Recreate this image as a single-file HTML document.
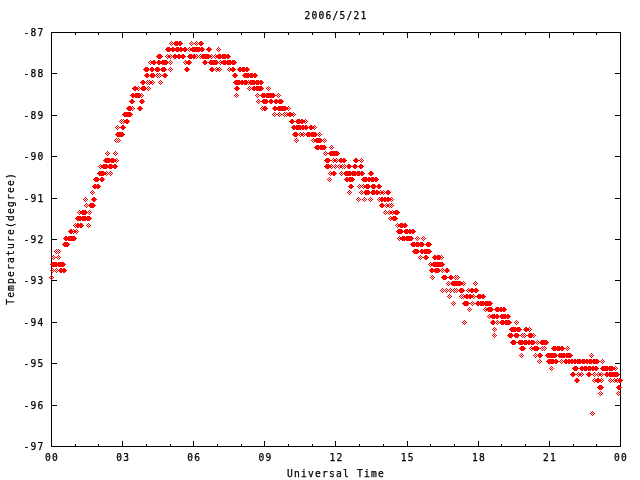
<!DOCTYPE html>
<html><head><meta charset="utf-8"><title>2006/5/21</title>
<style>
html,body{margin:0;padding:0;background:#fff;}
svg{display:block;}
text{font-family:'DejaVu Sans Mono','Liberation Mono',monospace;font-size:9.6px;letter-spacing:1.22px;fill:#000;stroke:#000;stroke-width:0.25px;}
</style></head><body>
<svg width="640" height="480" viewBox="0 0 640 480">
<rect width="640" height="480" fill="#fff"/>
<path d="M51 32h570v1h-570zM51 446h570v1h-570zM51 32h1v415h-1zM620 32h1v415h-1zM51 441h1v5h-1zM51 33h1v5h-1zM75 444h1v2h-1zM75 33h1v2h-1zM98 444h1v2h-1zM98 33h1v2h-1zM122 441h1v5h-1zM122 33h1v5h-1zM146 444h1v2h-1zM146 33h1v2h-1zM170 444h1v2h-1zM170 33h1v2h-1zM193 441h1v5h-1zM193 33h1v5h-1zM217 444h1v2h-1zM217 33h1v2h-1zM241 444h1v2h-1zM241 33h1v2h-1zM264 441h1v5h-1zM264 33h1v5h-1zM288 444h1v2h-1zM288 33h1v2h-1zM312 444h1v2h-1zM312 33h1v2h-1zM335 441h1v5h-1zM335 33h1v5h-1zM359 444h1v2h-1zM359 33h1v2h-1zM383 444h1v2h-1zM383 33h1v2h-1zM407 441h1v5h-1zM407 33h1v5h-1zM430 444h1v2h-1zM430 33h1v2h-1zM454 444h1v2h-1zM454 33h1v2h-1zM478 441h1v5h-1zM478 33h1v5h-1zM501 444h1v2h-1zM501 33h1v2h-1zM525 444h1v2h-1zM525 33h1v2h-1zM549 441h1v5h-1zM549 33h1v5h-1zM573 444h1v2h-1zM573 33h1v2h-1zM596 444h1v2h-1zM596 33h1v2h-1zM620 441h1v5h-1zM620 33h1v5h-1zM52 32h5v1h-5zM615 32h5v1h-5zM52 73h5v1h-5zM615 73h5v1h-5zM52 115h5v1h-5zM615 115h5v1h-5zM52 156h5v1h-5zM615 156h5v1h-5zM52 198h5v1h-5zM615 198h5v1h-5zM52 239h5v1h-5zM615 239h5v1h-5zM52 280h5v1h-5zM615 280h5v1h-5zM52 322h5v1h-5zM615 322h5v1h-5zM52 363h5v1h-5zM615 363h5v1h-5zM52 405h5v1h-5zM615 405h5v1h-5zM52 446h5v1h-5zM615 446h5v1h-5z" fill="#000" shape-rendering="crispEdges"/>
<path d="M171 41h1v1h-1zM175 41h3v1h-3zM179 41h2v1h-2zM191 41h1v1h-1zM196 41h1v1h-1zM200 41h2v1h-2zM170 42h1v1h-1zM172 42h1v1h-1zM174 42h8v1h-8zM190 42h1v1h-1zM192 42h1v1h-1zM195 42h1v1h-1zM197 42h1v1h-1zM199 42h4v1h-4zM169 43h1v1h-1zM171 43h1v1h-1zM173 43h10v1h-10zM189 43h1v1h-1zM191 43h1v1h-1zM193 43h2v1h-2zM196 43h1v1h-1zM198 43h6v1h-6zM170 44h1v1h-1zM172 44h1v1h-1zM174 44h8v1h-8zM190 44h1v1h-1zM192 44h1v1h-1zM195 44h1v1h-1zM197 44h1v1h-1zM199 44h4v1h-4zM171 45h1v1h-1zM175 45h3v1h-3zM179 45h2v1h-2zM191 45h1v1h-1zM196 45h1v1h-1zM200 45h2v1h-2zM167 47h3v1h-3zM172 47h2v1h-2zM176 47h3v1h-3zM180 47h2v1h-2zM184 47h2v1h-2zM189 47h1v1h-1zM192 47h8v1h-8zM201 47h2v1h-2zM208 47h2v1h-2zM218 47h1v1h-1zM166 48h21v1h-21zM188 48h1v1h-1zM190 48h14v1h-14zM207 48h4v1h-4zM217 48h1v1h-1zM219 48h1v1h-1zM165 49h23v1h-23zM189 49h16v1h-16zM206 49h6v1h-6zM216 49h1v1h-1zM218 49h1v1h-1zM220 49h1v1h-1zM166 50h21v1h-21zM188 50h1v1h-1zM190 50h14v1h-14zM207 50h4v1h-4zM217 50h1v1h-1zM219 50h1v1h-1zM167 51h3v1h-3zM172 51h2v1h-2zM176 51h3v1h-3zM180 51h2v1h-2zM184 51h2v1h-2zM189 51h1v1h-1zM192 51h8v1h-8zM201 51h2v1h-2zM208 51h2v1h-2zM218 51h1v1h-1zM158 54h3v1h-3zM167 54h1v1h-1zM170 54h1v1h-1zM174 54h2v1h-2zM178 54h2v1h-2zM182 54h2v1h-2zM189 54h3v1h-3zM193 54h2v1h-2zM196 54h1v1h-1zM200 54h1v1h-1zM202 54h7v1h-7zM211 54h1v1h-1zM215 54h1v1h-1zM218 54h3v1h-3zM222 54h4v1h-4zM227 54h2v1h-2zM157 55h5v1h-5zM166 55h1v1h-1zM168 55h2v1h-2zM171 55h1v1h-1zM173 55h12v1h-12zM188 55h8v1h-8zM197 55h1v1h-1zM199 55h1v1h-1zM201 55h10v1h-10zM212 55h1v1h-1zM214 55h1v1h-1zM216 55h14v1h-14zM156 56h7v1h-7zM165 56h1v1h-1zM167 56h4v1h-4zM172 56h14v1h-14zM187 56h10v1h-10zM198 56h1v1h-1zM200 56h12v1h-12zM213 56h1v1h-1zM215 56h16v1h-16zM157 57h5v1h-5zM166 57h1v1h-1zM168 57h2v1h-2zM171 57h1v1h-1zM173 57h12v1h-12zM188 57h8v1h-8zM197 57h1v1h-1zM199 57h1v1h-1zM201 57h10v1h-10zM212 57h1v1h-1zM214 57h1v1h-1zM216 57h14v1h-14zM158 58h3v1h-3zM167 58h1v1h-1zM170 58h1v1h-1zM174 58h2v1h-2zM178 58h2v1h-2zM182 58h2v1h-2zM189 58h3v1h-3zM193 58h2v1h-2zM196 58h1v1h-1zM200 58h1v1h-1zM202 58h7v1h-7zM211 58h1v1h-1zM215 58h1v1h-1zM218 58h3v1h-3zM222 58h4v1h-4zM227 58h2v1h-2zM150 60h1v1h-1zM153 60h2v1h-2zM158 60h2v1h-2zM162 60h5v1h-5zM170 60h1v1h-1zM185 60h1v1h-1zM188 60h2v1h-2zM204 60h2v1h-2zM210 60h7v1h-7zM220 60h1v1h-1zM223 60h3v1h-3zM227 60h4v1h-4zM232 60h3v1h-3zM149 61h1v1h-1zM151 61h5v1h-5zM157 61h11v1h-11zM169 61h1v1h-1zM171 61h1v1h-1zM184 61h1v1h-1zM186 61h5v1h-5zM203 61h4v1h-4zM209 61h9v1h-9zM219 61h1v1h-1zM221 61h15v1h-15zM148 62h1v1h-1zM150 62h19v1h-19zM170 62h1v1h-1zM172 62h1v1h-1zM183 62h1v1h-1zM185 62h7v1h-7zM202 62h17v1h-17zM220 62h17v1h-17zM149 63h1v1h-1zM151 63h5v1h-5zM157 63h11v1h-11zM169 63h1v1h-1zM171 63h1v1h-1zM184 63h1v1h-1zM186 63h5v1h-5zM203 63h4v1h-4zM209 63h9v1h-9zM219 63h1v1h-1zM221 63h15v1h-15zM150 64h1v1h-1zM153 64h2v1h-2zM158 64h2v1h-2zM162 64h5v1h-5zM170 64h1v1h-1zM185 64h1v1h-1zM188 64h2v1h-2zM204 64h2v1h-2zM210 64h7v1h-7zM220 64h1v1h-1zM223 64h3v1h-3zM227 64h4v1h-4zM232 64h3v1h-3zM145 67h3v1h-3zM151 67h2v1h-2zM156 67h3v1h-3zM162 67h3v1h-3zM170 67h1v1h-1zM186 67h2v1h-2zM211 67h2v1h-2zM216 67h1v1h-1zM219 67h1v1h-1zM229 67h1v1h-1zM232 67h2v1h-2zM239 67h2v1h-2zM242 67h3v1h-3zM246 67h2v1h-2zM144 68h5v1h-5zM150 68h4v1h-4zM155 68h5v1h-5zM161 68h5v1h-5zM169 68h1v1h-1zM171 68h1v1h-1zM185 68h4v1h-4zM210 68h4v1h-4zM215 68h1v1h-1zM217 68h2v1h-2zM220 68h1v1h-1zM228 68h1v1h-1zM230 68h5v1h-5zM238 68h11v1h-11zM143 69h24v1h-24zM168 69h1v1h-1zM170 69h1v1h-1zM172 69h1v1h-1zM184 69h6v1h-6zM209 69h6v1h-6zM216 69h4v1h-4zM221 69h1v1h-1zM227 69h1v1h-1zM229 69h7v1h-7zM237 69h13v1h-13zM144 70h5v1h-5zM150 70h4v1h-4zM155 70h5v1h-5zM161 70h5v1h-5zM169 70h1v1h-1zM171 70h1v1h-1zM185 70h4v1h-4zM210 70h4v1h-4zM215 70h1v1h-1zM217 70h2v1h-2zM220 70h1v1h-1zM228 70h1v1h-1zM230 70h5v1h-5zM238 70h11v1h-11zM145 71h3v1h-3zM151 71h2v1h-2zM156 71h3v1h-3zM162 71h3v1h-3zM170 71h1v1h-1zM186 71h2v1h-2zM211 71h2v1h-2zM216 71h1v1h-1zM219 71h1v1h-1zM229 71h1v1h-1zM232 71h2v1h-2zM239 71h2v1h-2zM242 71h3v1h-3zM246 71h2v1h-2zM146 73h2v1h-2zM151 73h3v1h-3zM157 73h1v1h-1zM159 73h1v1h-1zM164 73h2v1h-2zM234 73h2v1h-2zM244 73h5v1h-5zM250 73h3v1h-3zM254 73h2v1h-2zM145 74h4v1h-4zM150 74h5v1h-5zM156 74h1v1h-1zM158 74h1v1h-1zM160 74h1v1h-1zM163 74h4v1h-4zM233 74h4v1h-4zM243 74h14v1h-14zM144 75h12v1h-12zM157 75h1v1h-1zM159 75h1v1h-1zM161 75h7v1h-7zM232 75h6v1h-6zM242 75h16v1h-16zM145 76h4v1h-4zM150 76h5v1h-5zM156 76h1v1h-1zM158 76h1v1h-1zM160 76h1v1h-1zM163 76h4v1h-4zM233 76h4v1h-4zM243 76h14v1h-14zM146 77h2v1h-2zM151 77h3v1h-3zM157 77h1v1h-1zM159 77h1v1h-1zM164 77h2v1h-2zM234 77h2v1h-2zM244 77h5v1h-5zM250 77h3v1h-3zM254 77h2v1h-2zM142 80h2v1h-2zM147 80h1v1h-1zM149 80h1v1h-1zM152 80h1v1h-1zM160 80h1v1h-1zM235 80h5v1h-5zM241 80h2v1h-2zM244 80h3v1h-3zM248 80h1v1h-1zM250 80h5v1h-5zM256 80h3v1h-3zM260 80h2v1h-2zM141 81h4v1h-4zM146 81h1v1h-1zM148 81h1v1h-1zM150 81h2v1h-2zM153 81h1v1h-1zM159 81h1v1h-1zM161 81h1v1h-1zM234 81h14v1h-14zM249 81h14v1h-14zM140 82h6v1h-6zM147 82h1v1h-1zM149 82h4v1h-4zM154 82h1v1h-1zM158 82h1v1h-1zM160 82h1v1h-1zM162 82h1v1h-1zM233 82h31v1h-31zM141 83h4v1h-4zM146 83h1v1h-1zM148 83h1v1h-1zM150 83h2v1h-2zM153 83h1v1h-1zM159 83h1v1h-1zM161 83h1v1h-1zM234 83h14v1h-14zM249 83h14v1h-14zM142 84h2v1h-2zM147 84h1v1h-1zM149 84h1v1h-1zM152 84h1v1h-1zM160 84h1v1h-1zM235 84h5v1h-5zM241 84h2v1h-2zM244 84h3v1h-3zM248 84h1v1h-1zM250 84h5v1h-5zM256 84h3v1h-3zM260 84h2v1h-2zM134 86h2v1h-2zM138 86h1v1h-1zM142 86h3v1h-3zM148 86h1v1h-1zM236 86h2v1h-2zM249 86h1v1h-1zM253 86h2v1h-2zM256 86h6v1h-6zM268 86h1v1h-1zM133 87h5v1h-5zM139 87h1v1h-1zM141 87h5v1h-5zM147 87h1v1h-1zM149 87h1v1h-1zM235 87h4v1h-4zM248 87h1v1h-1zM250 87h1v1h-1zM252 87h11v1h-11zM267 87h1v1h-1zM269 87h1v1h-1zM132 88h7v1h-7zM140 88h7v1h-7zM148 88h1v1h-1zM150 88h1v1h-1zM234 88h6v1h-6zM247 88h1v1h-1zM249 88h1v1h-1zM251 88h13v1h-13zM266 88h1v1h-1zM268 88h1v1h-1zM270 88h1v1h-1zM133 89h5v1h-5zM139 89h1v1h-1zM141 89h5v1h-5zM147 89h1v1h-1zM149 89h1v1h-1zM235 89h4v1h-4zM248 89h1v1h-1zM250 89h1v1h-1zM252 89h11v1h-11zM267 89h1v1h-1zM269 89h1v1h-1zM134 90h2v1h-2zM138 90h1v1h-1zM142 90h3v1h-3zM148 90h1v1h-1zM236 90h2v1h-2zM249 90h1v1h-1zM253 90h2v1h-2zM256 90h6v1h-6zM268 90h1v1h-1zM132 93h2v1h-2zM135 93h5v1h-5zM141 93h1v1h-1zM236 93h1v1h-1zM257 93h1v1h-1zM262 93h3v1h-3zM266 93h8v1h-8zM278 93h1v1h-1zM131 94h10v1h-10zM142 94h1v1h-1zM235 94h1v1h-1zM237 94h1v1h-1zM256 94h1v1h-1zM258 94h1v1h-1zM261 94h14v1h-14zM277 94h1v1h-1zM279 94h1v1h-1zM130 95h12v1h-12zM143 95h1v1h-1zM234 95h1v1h-1zM236 95h1v1h-1zM238 95h1v1h-1zM255 95h1v1h-1zM257 95h1v1h-1zM259 95h18v1h-18zM278 95h1v1h-1zM280 95h1v1h-1zM131 96h10v1h-10zM142 96h1v1h-1zM235 96h1v1h-1zM237 96h1v1h-1zM256 96h1v1h-1zM258 96h1v1h-1zM261 96h14v1h-14zM277 96h1v1h-1zM279 96h1v1h-1zM132 97h2v1h-2zM135 97h5v1h-5zM141 97h1v1h-1zM236 97h1v1h-1zM257 97h1v1h-1zM262 97h3v1h-3zM266 97h8v1h-8zM278 97h1v1h-1zM131 99h2v1h-2zM141 99h2v1h-2zM258 99h1v1h-1zM263 99h4v1h-4zM270 99h2v1h-2zM275 99h2v1h-2zM279 99h3v1h-3zM130 100h4v1h-4zM140 100h4v1h-4zM257 100h1v1h-1zM259 100h1v1h-1zM262 100h6v1h-6zM269 100h4v1h-4zM274 100h9v1h-9zM129 101h6v1h-6zM139 101h6v1h-6zM256 101h1v1h-1zM258 101h1v1h-1zM260 101h24v1h-24zM130 102h4v1h-4zM140 102h4v1h-4zM257 102h1v1h-1zM259 102h1v1h-1zM262 102h6v1h-6zM269 102h4v1h-4zM274 102h9v1h-9zM131 103h2v1h-2zM141 103h2v1h-2zM258 103h1v1h-1zM263 103h4v1h-4zM270 103h2v1h-2zM275 103h2v1h-2zM279 103h3v1h-3zM128 106h3v1h-3zM132 106h1v1h-1zM139 106h2v1h-2zM262 106h1v1h-1zM264 106h2v1h-2zM274 106h2v1h-2zM278 106h8v1h-8zM288 106h1v1h-1zM127 107h5v1h-5zM133 107h1v1h-1zM138 107h4v1h-4zM261 107h1v1h-1zM263 107h4v1h-4zM273 107h15v1h-15zM289 107h1v1h-1zM126 108h7v1h-7zM134 108h1v1h-1zM137 108h6v1h-6zM260 108h1v1h-1zM262 108h6v1h-6zM272 108h17v1h-17zM290 108h1v1h-1zM127 109h5v1h-5zM133 109h1v1h-1zM138 109h4v1h-4zM261 109h1v1h-1zM263 109h4v1h-4zM273 109h15v1h-15zM289 109h1v1h-1zM128 110h3v1h-3zM132 110h1v1h-1zM139 110h2v1h-2zM262 110h1v1h-1zM264 110h2v1h-2zM274 110h2v1h-2zM278 110h8v1h-8zM288 110h1v1h-1zM124 112h7v1h-7zM274 112h1v1h-1zM279 112h1v1h-1zM284 112h1v1h-1zM286 112h1v1h-1zM289 112h2v1h-2zM293 112h1v1h-1zM123 113h9v1h-9zM273 113h1v1h-1zM275 113h1v1h-1zM278 113h1v1h-1zM280 113h1v1h-1zM283 113h1v1h-1zM285 113h1v1h-1zM287 113h6v1h-6zM294 113h1v1h-1zM122 114h11v1h-11zM272 114h1v1h-1zM274 114h1v1h-1zM276 114h2v1h-2zM279 114h1v1h-1zM281 114h2v1h-2zM284 114h1v1h-1zM286 114h8v1h-8zM295 114h1v1h-1zM123 115h9v1h-9zM273 115h1v1h-1zM275 115h1v1h-1zM278 115h1v1h-1zM280 115h1v1h-1zM283 115h1v1h-1zM285 115h1v1h-1zM287 115h6v1h-6zM294 115h1v1h-1zM124 116h7v1h-7zM274 116h1v1h-1zM279 116h1v1h-1zM284 116h1v1h-1zM286 116h1v1h-1zM289 116h2v1h-2zM293 116h1v1h-1zM121 119h1v1h-1zM123 119h1v1h-1zM126 119h2v1h-2zM291 119h2v1h-2zM297 119h3v1h-3zM301 119h2v1h-2zM305 119h1v1h-1zM120 120h1v1h-1zM122 120h1v1h-1zM124 120h5v1h-5zM290 120h4v1h-4zM296 120h9v1h-9zM306 120h1v1h-1zM119 121h1v1h-1zM121 121h1v1h-1zM123 121h7v1h-7zM289 121h17v1h-17zM307 121h1v1h-1zM120 122h1v1h-1zM122 122h1v1h-1zM124 122h5v1h-5zM290 122h4v1h-4zM296 122h9v1h-9zM306 122h1v1h-1zM121 123h1v1h-1zM123 123h1v1h-1zM126 123h2v1h-2zM291 123h2v1h-2zM297 123h3v1h-3zM301 123h2v1h-2zM305 123h1v1h-1zM117 125h1v1h-1zM122 125h2v1h-2zM293 125h2v1h-2zM296 125h5v1h-5zM302 125h2v1h-2zM305 125h2v1h-2zM310 125h2v1h-2zM314 125h1v1h-1zM116 126h1v1h-1zM118 126h1v1h-1zM121 126h4v1h-4zM292 126h16v1h-16zM309 126h5v1h-5zM315 126h1v1h-1zM115 127h1v1h-1zM117 127h1v1h-1zM119 127h7v1h-7zM291 127h24v1h-24zM316 127h1v1h-1zM116 128h1v1h-1zM118 128h1v1h-1zM121 128h4v1h-4zM292 128h16v1h-16zM309 128h5v1h-5zM315 128h1v1h-1zM117 129h1v1h-1zM122 129h2v1h-2zM293 129h2v1h-2zM296 129h5v1h-5zM302 129h2v1h-2zM305 129h2v1h-2zM310 129h2v1h-2zM314 129h1v1h-1zM117 132h6v1h-6zM294 132h3v1h-3zM300 132h1v1h-1zM303 132h1v1h-1zM307 132h3v1h-3zM311 132h5v1h-5zM319 132h1v1h-1zM116 133h8v1h-8zM293 133h5v1h-5zM299 133h1v1h-1zM301 133h2v1h-2zM304 133h1v1h-1zM306 133h11v1h-11zM318 133h1v1h-1zM320 133h1v1h-1zM115 134h10v1h-10zM292 134h7v1h-7zM300 134h4v1h-4zM305 134h13v1h-13zM319 134h1v1h-1zM321 134h1v1h-1zM116 135h8v1h-8zM293 135h5v1h-5zM299 135h1v1h-1zM301 135h2v1h-2zM304 135h1v1h-1zM306 135h11v1h-11zM318 135h1v1h-1zM320 135h1v1h-1zM117 136h6v1h-6zM294 136h3v1h-3zM300 136h1v1h-1zM303 136h1v1h-1zM307 136h3v1h-3zM311 136h5v1h-5zM319 136h1v1h-1zM116 138h1v1h-1zM118 138h1v1h-1zM296 138h1v1h-1zM313 138h1v1h-1zM316 138h5v1h-5zM324 138h1v1h-1zM115 139h1v1h-1zM117 139h1v1h-1zM119 139h1v1h-1zM295 139h1v1h-1zM297 139h1v1h-1zM312 139h1v1h-1zM314 139h8v1h-8zM323 139h1v1h-1zM325 139h1v1h-1zM114 140h1v1h-1zM116 140h1v1h-1zM118 140h1v1h-1zM120 140h1v1h-1zM294 140h1v1h-1zM296 140h1v1h-1zM298 140h1v1h-1zM311 140h1v1h-1zM313 140h10v1h-10zM324 140h1v1h-1zM326 140h1v1h-1zM115 141h1v1h-1zM117 141h1v1h-1zM119 141h1v1h-1zM295 141h1v1h-1zM297 141h1v1h-1zM312 141h1v1h-1zM314 141h8v1h-8zM323 141h1v1h-1zM325 141h1v1h-1zM116 142h1v1h-1zM118 142h1v1h-1zM296 142h1v1h-1zM313 142h1v1h-1zM316 142h5v1h-5zM324 142h1v1h-1zM316 145h3v1h-3zM320 145h5v1h-5zM331 145h1v1h-1zM315 146h11v1h-11zM330 146h1v1h-1zM332 146h1v1h-1zM314 147h13v1h-13zM329 147h1v1h-1zM331 147h1v1h-1zM333 147h1v1h-1zM315 148h11v1h-11zM330 148h1v1h-1zM332 148h1v1h-1zM316 149h3v1h-3zM320 149h5v1h-5zM331 149h1v1h-1zM107 151h1v1h-1zM115 151h1v1h-1zM325 151h1v1h-1zM330 151h8v1h-8zM106 152h1v1h-1zM108 152h1v1h-1zM114 152h1v1h-1zM116 152h1v1h-1zM324 152h1v1h-1zM326 152h1v1h-1zM329 152h10v1h-10zM105 153h1v1h-1zM107 153h1v1h-1zM109 153h1v1h-1zM113 153h1v1h-1zM115 153h1v1h-1zM117 153h1v1h-1zM323 153h1v1h-1zM325 153h1v1h-1zM327 153h13v1h-13zM106 154h1v1h-1zM108 154h1v1h-1zM114 154h1v1h-1zM116 154h1v1h-1zM324 154h1v1h-1zM326 154h1v1h-1zM329 154h10v1h-10zM107 155h1v1h-1zM115 155h1v1h-1zM325 155h1v1h-1zM330 155h8v1h-8zM105 158h5v1h-5zM111 158h3v1h-3zM116 158h1v1h-1zM326 158h3v1h-3zM333 158h1v1h-1zM336 158h1v1h-1zM340 158h2v1h-2zM343 158h2v1h-2zM355 158h2v1h-2zM361 158h1v1h-1zM104 159h12v1h-12zM117 159h1v1h-1zM325 159h5v1h-5zM332 159h1v1h-1zM334 159h2v1h-2zM337 159h1v1h-1zM339 159h7v1h-7zM354 159h4v1h-4zM360 159h1v1h-1zM362 159h1v1h-1zM103 160h14v1h-14zM118 160h1v1h-1zM324 160h8v1h-8zM333 160h4v1h-4zM338 160h9v1h-9zM353 160h7v1h-7zM361 160h1v1h-1zM363 160h1v1h-1zM104 161h12v1h-12zM117 161h1v1h-1zM325 161h5v1h-5zM332 161h1v1h-1zM334 161h2v1h-2zM337 161h1v1h-1zM339 161h7v1h-7zM354 161h4v1h-4zM360 161h1v1h-1zM362 161h1v1h-1zM105 162h5v1h-5zM111 162h3v1h-3zM116 162h1v1h-1zM326 162h3v1h-3zM333 162h1v1h-1zM336 162h1v1h-1zM340 162h2v1h-2zM343 162h2v1h-2zM355 162h2v1h-2zM361 162h1v1h-1zM100 164h1v1h-1zM103 164h4v1h-4zM109 164h3v1h-3zM114 164h2v1h-2zM326 164h3v1h-3zM331 164h1v1h-1zM335 164h1v1h-1zM339 164h1v1h-1zM342 164h1v1h-1zM344 164h1v1h-1zM348 164h2v1h-2zM354 164h2v1h-2zM360 164h2v1h-2zM99 165h1v1h-1zM101 165h16v1h-16zM325 165h6v1h-6zM332 165h1v1h-1zM334 165h1v1h-1zM336 165h1v1h-1zM338 165h1v1h-1zM340 165h2v1h-2zM343 165h1v1h-1zM345 165h1v1h-1zM347 165h4v1h-4zM353 165h4v1h-4zM359 165h4v1h-4zM98 166h1v1h-1zM100 166h18v1h-18zM324 166h8v1h-8zM333 166h1v1h-1zM335 166h1v1h-1zM337 166h1v1h-1zM339 166h4v1h-4zM344 166h1v1h-1zM346 166h18v1h-18zM99 167h1v1h-1zM101 167h16v1h-16zM325 167h6v1h-6zM332 167h1v1h-1zM334 167h1v1h-1zM336 167h1v1h-1zM338 167h1v1h-1zM340 167h2v1h-2zM343 167h1v1h-1zM345 167h1v1h-1zM347 167h4v1h-4zM353 167h4v1h-4zM359 167h4v1h-4zM100 168h1v1h-1zM103 168h4v1h-4zM109 168h3v1h-3zM114 168h2v1h-2zM326 168h3v1h-3zM331 168h1v1h-1zM335 168h1v1h-1zM339 168h1v1h-1zM342 168h1v1h-1zM344 168h1v1h-1zM348 168h2v1h-2zM354 168h2v1h-2zM360 168h2v1h-2zM99 171h5v1h-5zM106 171h1v1h-1zM110 171h1v1h-1zM330 171h1v1h-1zM333 171h2v1h-2zM341 171h1v1h-1zM345 171h6v1h-6zM352 171h4v1h-4zM357 171h3v1h-3zM361 171h2v1h-2zM370 171h2v1h-2zM98 172h8v1h-8zM107 172h1v1h-1zM109 172h1v1h-1zM111 172h1v1h-1zM329 172h1v1h-1zM331 172h5v1h-5zM340 172h1v1h-1zM342 172h1v1h-1zM344 172h20v1h-20zM369 172h4v1h-4zM97 173h10v1h-10zM108 173h1v1h-1zM110 173h1v1h-1zM112 173h1v1h-1zM328 173h1v1h-1zM330 173h7v1h-7zM339 173h1v1h-1zM341 173h1v1h-1zM343 173h22v1h-22zM368 173h6v1h-6zM98 174h8v1h-8zM107 174h1v1h-1zM109 174h1v1h-1zM111 174h1v1h-1zM329 174h1v1h-1zM331 174h5v1h-5zM340 174h1v1h-1zM342 174h1v1h-1zM344 174h20v1h-20zM369 174h4v1h-4zM99 175h5v1h-5zM106 175h1v1h-1zM110 175h1v1h-1zM330 175h1v1h-1zM333 175h2v1h-2zM341 175h1v1h-1zM345 175h6v1h-6zM352 175h4v1h-4zM357 175h3v1h-3zM361 175h2v1h-2zM370 175h2v1h-2zM95 177h3v1h-3zM101 177h2v1h-2zM329 177h1v1h-1zM346 177h2v1h-2zM349 177h4v1h-4zM363 177h4v1h-4zM368 177h2v1h-2zM371 177h3v1h-3zM375 177h2v1h-2zM94 178h5v1h-5zM100 178h4v1h-4zM328 178h1v1h-1zM330 178h1v1h-1zM345 178h9v1h-9zM362 178h16v1h-16zM93 179h12v1h-12zM327 179h1v1h-1zM329 179h1v1h-1zM331 179h1v1h-1zM344 179h11v1h-11zM361 179h18v1h-18zM94 180h5v1h-5zM100 180h4v1h-4zM328 180h1v1h-1zM330 180h1v1h-1zM345 180h9v1h-9zM362 180h16v1h-16zM95 181h3v1h-3zM101 181h2v1h-2zM329 181h1v1h-1zM346 181h2v1h-2zM349 181h4v1h-4zM363 181h4v1h-4zM368 181h2v1h-2zM371 181h3v1h-3zM375 181h2v1h-2zM94 184h2v1h-2zM97 184h2v1h-2zM350 184h2v1h-2zM359 184h1v1h-1zM363 184h1v1h-1zM366 184h3v1h-3zM372 184h3v1h-3zM378 184h2v1h-2zM93 185h7v1h-7zM349 185h4v1h-4zM358 185h1v1h-1zM360 185h1v1h-1zM362 185h1v1h-1zM364 185h6v1h-6zM371 185h5v1h-5zM377 185h4v1h-4zM92 186h9v1h-9zM348 186h6v1h-6zM357 186h1v1h-1zM359 186h1v1h-1zM361 186h1v1h-1zM363 186h19v1h-19zM93 187h7v1h-7zM349 187h4v1h-4zM358 187h1v1h-1zM360 187h1v1h-1zM362 187h1v1h-1zM364 187h6v1h-6zM371 187h5v1h-5zM377 187h4v1h-4zM94 188h2v1h-2zM97 188h2v1h-2zM350 188h2v1h-2zM359 188h1v1h-1zM363 188h1v1h-1zM366 188h3v1h-3zM372 188h3v1h-3zM378 188h2v1h-2zM92 190h1v1h-1zM349 190h1v1h-1zM361 190h1v1h-1zM365 190h4v1h-4zM372 190h3v1h-3zM376 190h2v1h-2zM380 190h1v1h-1zM383 190h1v1h-1zM387 190h2v1h-2zM91 191h1v1h-1zM93 191h1v1h-1zM348 191h1v1h-1zM350 191h1v1h-1zM360 191h1v1h-1zM362 191h1v1h-1zM364 191h6v1h-6zM371 191h9v1h-9zM381 191h2v1h-2zM384 191h1v1h-1zM386 191h4v1h-4zM90 192h1v1h-1zM92 192h1v1h-1zM94 192h1v1h-1zM347 192h1v1h-1zM349 192h1v1h-1zM351 192h1v1h-1zM359 192h1v1h-1zM361 192h1v1h-1zM363 192h21v1h-21zM385 192h6v1h-6zM91 193h1v1h-1zM93 193h1v1h-1zM348 193h1v1h-1zM350 193h1v1h-1zM360 193h1v1h-1zM362 193h1v1h-1zM364 193h6v1h-6zM371 193h9v1h-9zM381 193h2v1h-2zM384 193h1v1h-1zM386 193h4v1h-4zM92 194h1v1h-1zM349 194h1v1h-1zM361 194h1v1h-1zM365 194h4v1h-4zM372 194h3v1h-3zM376 194h2v1h-2zM380 194h1v1h-1zM383 194h1v1h-1zM387 194h2v1h-2zM85 197h1v1h-1zM93 197h2v1h-2zM358 197h1v1h-1zM364 197h1v1h-1zM370 197h1v1h-1zM379 197h1v1h-1zM381 197h2v1h-2zM384 197h2v1h-2zM387 197h2v1h-2zM391 197h1v1h-1zM84 198h1v1h-1zM86 198h1v1h-1zM92 198h4v1h-4zM357 198h1v1h-1zM359 198h1v1h-1zM363 198h1v1h-1zM365 198h1v1h-1zM369 198h1v1h-1zM371 198h1v1h-1zM378 198h1v1h-1zM380 198h11v1h-11zM392 198h1v1h-1zM83 199h1v1h-1zM85 199h1v1h-1zM87 199h1v1h-1zM91 199h6v1h-6zM356 199h1v1h-1zM358 199h1v1h-1zM360 199h1v1h-1zM362 199h1v1h-1zM364 199h1v1h-1zM366 199h1v1h-1zM368 199h1v1h-1zM370 199h1v1h-1zM372 199h1v1h-1zM377 199h1v1h-1zM379 199h13v1h-13zM393 199h1v1h-1zM84 200h1v1h-1zM86 200h1v1h-1zM92 200h4v1h-4zM357 200h1v1h-1zM359 200h1v1h-1zM363 200h1v1h-1zM365 200h1v1h-1zM369 200h1v1h-1zM371 200h1v1h-1zM378 200h1v1h-1zM380 200h11v1h-11zM392 200h1v1h-1zM85 201h1v1h-1zM93 201h2v1h-2zM358 201h1v1h-1zM364 201h1v1h-1zM370 201h1v1h-1zM379 201h1v1h-1zM381 201h2v1h-2zM384 201h2v1h-2zM387 201h2v1h-2zM391 201h1v1h-1zM86 203h1v1h-1zM90 203h4v1h-4zM381 203h2v1h-2zM386 203h1v1h-1zM389 203h1v1h-1zM391 203h1v1h-1zM85 204h1v1h-1zM87 204h1v1h-1zM89 204h6v1h-6zM380 204h4v1h-4zM385 204h1v1h-1zM387 204h2v1h-2zM390 204h1v1h-1zM392 204h1v1h-1zM84 205h1v1h-1zM86 205h1v1h-1zM88 205h8v1h-8zM379 205h6v1h-6zM386 205h4v1h-4zM391 205h1v1h-1zM393 205h1v1h-1zM85 206h1v1h-1zM87 206h1v1h-1zM89 206h6v1h-6zM380 206h4v1h-4zM385 206h1v1h-1zM387 206h2v1h-2zM390 206h1v1h-1zM392 206h1v1h-1zM86 207h1v1h-1zM90 207h4v1h-4zM381 207h2v1h-2zM386 207h1v1h-1zM389 207h1v1h-1zM391 207h1v1h-1zM79 210h1v1h-1zM82 210h4v1h-4zM89 210h1v1h-1zM385 210h1v1h-1zM389 210h1v1h-1zM392 210h1v1h-1zM395 210h3v1h-3zM78 211h1v1h-1zM80 211h7v1h-7zM88 211h1v1h-1zM90 211h1v1h-1zM384 211h1v1h-1zM386 211h1v1h-1zM388 211h1v1h-1zM390 211h2v1h-2zM393 211h6v1h-6zM77 212h1v1h-1zM79 212h9v1h-9zM89 212h1v1h-1zM91 212h1v1h-1zM383 212h1v1h-1zM385 212h1v1h-1zM387 212h1v1h-1zM389 212h11v1h-11zM78 213h1v1h-1zM80 213h7v1h-7zM88 213h1v1h-1zM90 213h1v1h-1zM384 213h1v1h-1zM386 213h1v1h-1zM388 213h1v1h-1zM390 213h2v1h-2zM393 213h6v1h-6zM79 214h1v1h-1zM82 214h4v1h-4zM89 214h1v1h-1zM385 214h1v1h-1zM389 214h1v1h-1zM392 214h1v1h-1zM395 214h3v1h-3zM77 216h4v1h-4zM82 216h4v1h-4zM87 216h3v1h-3zM390 216h1v1h-1zM393 216h3v1h-3zM76 217h15v1h-15zM389 217h1v1h-1zM391 217h6v1h-6zM75 218h17v1h-17zM388 218h1v1h-1zM390 218h8v1h-8zM76 219h15v1h-15zM389 219h1v1h-1zM391 219h6v1h-6zM77 220h4v1h-4zM82 220h4v1h-4zM87 220h3v1h-3zM390 220h1v1h-1zM393 220h3v1h-3zM75 223h1v1h-1zM77 223h2v1h-2zM80 223h2v1h-2zM88 223h1v1h-1zM397 223h1v1h-1zM400 223h3v1h-3zM404 223h2v1h-2zM74 224h1v1h-1zM76 224h7v1h-7zM87 224h1v1h-1zM89 224h1v1h-1zM396 224h1v1h-1zM398 224h9v1h-9zM73 225h1v1h-1zM75 225h9v1h-9zM86 225h1v1h-1zM88 225h1v1h-1zM90 225h1v1h-1zM395 225h1v1h-1zM397 225h11v1h-11zM74 226h1v1h-1zM76 226h7v1h-7zM87 226h1v1h-1zM89 226h1v1h-1zM396 226h1v1h-1zM398 226h9v1h-9zM75 227h1v1h-1zM77 227h2v1h-2zM80 227h2v1h-2zM88 227h1v1h-1zM397 227h1v1h-1zM400 227h3v1h-3zM404 227h2v1h-2zM70 229h2v1h-2zM73 229h1v1h-1zM76 229h1v1h-1zM398 229h4v1h-4zM405 229h3v1h-3zM409 229h2v1h-2zM412 229h2v1h-2zM69 230h4v1h-4zM74 230h2v1h-2zM77 230h1v1h-1zM397 230h6v1h-6zM404 230h11v1h-11zM68 231h9v1h-9zM78 231h1v1h-1zM396 231h20v1h-20zM69 232h4v1h-4zM74 232h2v1h-2zM77 232h1v1h-1zM397 232h6v1h-6zM404 232h11v1h-11zM70 233h2v1h-2zM73 233h1v1h-1zM76 233h1v1h-1zM398 233h4v1h-4zM405 233h3v1h-3zM409 233h2v1h-2zM412 233h2v1h-2zM65 236h2v1h-2zM68 236h7v1h-7zM399 236h1v1h-1zM402 236h3v1h-3zM406 236h6v1h-6zM417 236h1v1h-1zM423 236h1v1h-1zM64 237h12v1h-12zM398 237h1v1h-1zM400 237h13v1h-13zM416 237h1v1h-1zM418 237h1v1h-1zM422 237h1v1h-1zM424 237h1v1h-1zM63 238h14v1h-14zM397 238h1v1h-1zM399 238h15v1h-15zM415 238h1v1h-1zM417 238h1v1h-1zM419 238h1v1h-1zM421 238h1v1h-1zM423 238h1v1h-1zM425 238h1v1h-1zM64 239h12v1h-12zM398 239h1v1h-1zM400 239h13v1h-13zM416 239h1v1h-1zM418 239h1v1h-1zM422 239h1v1h-1zM424 239h1v1h-1zM65 240h2v1h-2zM68 240h7v1h-7zM399 240h1v1h-1zM402 240h3v1h-3zM406 240h6v1h-6zM417 240h1v1h-1zM423 240h1v1h-1zM64 242h4v1h-4zM412 242h3v1h-3zM416 242h3v1h-3zM420 242h3v1h-3zM427 242h3v1h-3zM63 243h6v1h-6zM411 243h13v1h-13zM426 243h5v1h-5zM62 244h8v1h-8zM410 244h22v1h-22zM63 245h6v1h-6zM411 245h13v1h-13zM426 245h5v1h-5zM64 246h4v1h-4zM412 246h3v1h-3zM416 246h3v1h-3zM420 246h3v1h-3zM427 246h3v1h-3zM56 249h1v1h-1zM58 249h1v1h-1zM414 249h4v1h-4zM421 249h2v1h-2zM424 249h6v1h-6zM55 250h1v1h-1zM57 250h1v1h-1zM59 250h1v1h-1zM413 250h6v1h-6zM420 250h11v1h-11zM54 251h1v1h-1zM56 251h1v1h-1zM58 251h1v1h-1zM60 251h1v1h-1zM412 251h20v1h-20zM55 252h1v1h-1zM57 252h1v1h-1zM59 252h1v1h-1zM413 252h6v1h-6zM420 252h11v1h-11zM56 253h1v1h-1zM58 253h1v1h-1zM414 253h4v1h-4zM421 253h2v1h-2zM424 253h6v1h-6zM53 255h1v1h-1zM58 255h1v1h-1zM420 255h1v1h-1zM425 255h2v1h-2zM434 255h2v1h-2zM437 255h3v1h-3zM441 255h1v1h-1zM52 256h1v1h-1zM54 256h1v1h-1zM57 256h1v1h-1zM59 256h1v1h-1zM419 256h1v1h-1zM421 256h1v1h-1zM424 256h4v1h-4zM433 256h8v1h-8zM442 256h1v1h-1zM51 257h1v1h-1zM53 257h1v1h-1zM55 257h2v1h-2zM58 257h1v1h-1zM60 257h1v1h-1zM418 257h1v1h-1zM420 257h1v1h-1zM422 257h7v1h-7zM432 257h10v1h-10zM443 257h1v1h-1zM52 258h1v1h-1zM54 258h1v1h-1zM57 258h1v1h-1zM59 258h1v1h-1zM419 258h1v1h-1zM421 258h1v1h-1zM424 258h4v1h-4zM433 258h8v1h-8zM442 258h1v1h-1zM53 259h1v1h-1zM58 259h1v1h-1zM420 259h1v1h-1zM425 259h2v1h-2zM434 259h2v1h-2zM437 259h3v1h-3zM441 259h1v1h-1zM52 262h5v1h-5zM58 262h6v1h-6zM430 262h1v1h-1zM433 262h10v1h-10zM51 263h14v1h-14zM429 263h1v1h-1zM431 263h13v1h-13zM50 264h16v1h-16zM428 264h1v1h-1zM430 264h15v1h-15zM51 265h14v1h-14zM429 265h1v1h-1zM431 265h13v1h-13zM52 266h5v1h-5zM58 266h6v1h-6zM430 266h1v1h-1zM433 266h10v1h-10zM52 268h1v1h-1zM56 268h1v1h-1zM60 268h2v1h-2zM63 268h2v1h-2zM431 268h2v1h-2zM435 268h4v1h-4zM442 268h1v1h-1zM446 268h2v1h-2zM51 269h1v1h-1zM53 269h1v1h-1zM55 269h1v1h-1zM57 269h1v1h-1zM59 269h7v1h-7zM430 269h10v1h-10zM441 269h1v1h-1zM443 269h1v1h-1zM445 269h4v1h-4zM50 270h1v1h-1zM52 270h1v1h-1zM54 270h1v1h-1zM56 270h1v1h-1zM58 270h9v1h-9zM429 270h12v1h-12zM442 270h1v1h-1zM444 270h6v1h-6zM51 271h1v1h-1zM53 271h1v1h-1zM55 271h1v1h-1zM57 271h1v1h-1zM59 271h7v1h-7zM430 271h10v1h-10zM441 271h1v1h-1zM443 271h1v1h-1zM445 271h4v1h-4zM52 272h1v1h-1zM56 272h1v1h-1zM60 272h2v1h-2zM63 272h2v1h-2zM431 272h2v1h-2zM435 272h4v1h-4zM442 272h1v1h-1zM446 272h2v1h-2zM51 275h1v1h-1zM432 275h1v1h-1zM443 275h3v1h-3zM450 275h2v1h-2zM455 275h1v1h-1zM457 275h1v1h-1zM50 276h1v1h-1zM52 276h1v1h-1zM431 276h1v1h-1zM433 276h1v1h-1zM442 276h5v1h-5zM449 276h4v1h-4zM454 276h1v1h-1zM456 276h1v1h-1zM458 276h1v1h-1zM49 277h1v1h-1zM51 277h1v1h-1zM53 277h1v1h-1zM430 277h1v1h-1zM432 277h1v1h-1zM434 277h1v1h-1zM441 277h13v1h-13zM455 277h1v1h-1zM457 277h1v1h-1zM459 277h1v1h-1zM50 278h1v1h-1zM52 278h1v1h-1zM431 278h1v1h-1zM433 278h1v1h-1zM442 278h5v1h-5zM449 278h4v1h-4zM454 278h1v1h-1zM456 278h1v1h-1zM458 278h1v1h-1zM51 279h1v1h-1zM432 279h1v1h-1zM443 279h3v1h-3zM450 279h2v1h-2zM455 279h1v1h-1zM457 279h1v1h-1zM448 281h1v1h-1zM452 281h9v1h-9zM463 281h1v1h-1zM475 281h1v1h-1zM447 282h1v1h-1zM449 282h1v1h-1zM451 282h12v1h-12zM464 282h1v1h-1zM474 282h1v1h-1zM476 282h1v1h-1zM446 283h1v1h-1zM448 283h1v1h-1zM450 283h14v1h-14zM465 283h1v1h-1zM473 283h1v1h-1zM475 283h1v1h-1zM477 283h1v1h-1zM447 284h1v1h-1zM449 284h1v1h-1zM451 284h12v1h-12zM464 284h1v1h-1zM474 284h1v1h-1zM476 284h1v1h-1zM448 285h1v1h-1zM452 285h9v1h-9zM463 285h1v1h-1zM475 285h1v1h-1zM442 288h1v1h-1zM446 288h1v1h-1zM450 288h1v1h-1zM454 288h1v1h-1zM456 288h1v1h-1zM460 288h3v1h-3zM468 288h1v1h-1zM471 288h2v1h-2zM475 288h2v1h-2zM441 289h1v1h-1zM443 289h1v1h-1zM445 289h1v1h-1zM447 289h1v1h-1zM449 289h1v1h-1zM451 289h1v1h-1zM453 289h1v1h-1zM455 289h1v1h-1zM457 289h1v1h-1zM459 289h5v1h-5zM467 289h1v1h-1zM469 289h9v1h-9zM440 290h1v1h-1zM442 290h1v1h-1zM444 290h1v1h-1zM446 290h1v1h-1zM448 290h1v1h-1zM450 290h1v1h-1zM452 290h1v1h-1zM454 290h1v1h-1zM456 290h1v1h-1zM458 290h7v1h-7zM466 290h1v1h-1zM468 290h11v1h-11zM441 291h1v1h-1zM443 291h1v1h-1zM445 291h1v1h-1zM447 291h1v1h-1zM449 291h1v1h-1zM451 291h1v1h-1zM453 291h1v1h-1zM455 291h1v1h-1zM457 291h1v1h-1zM459 291h5v1h-5zM467 291h1v1h-1zM469 291h9v1h-9zM442 292h1v1h-1zM446 292h1v1h-1zM450 292h1v1h-1zM454 292h1v1h-1zM456 292h1v1h-1zM460 292h3v1h-3zM468 292h1v1h-1zM471 292h2v1h-2zM475 292h2v1h-2zM449 294h1v1h-1zM461 294h1v1h-1zM463 294h1v1h-1zM466 294h2v1h-2zM469 294h2v1h-2zM473 294h1v1h-1zM478 294h3v1h-3zM482 294h2v1h-2zM448 295h1v1h-1zM450 295h1v1h-1zM460 295h1v1h-1zM462 295h1v1h-1zM464 295h9v1h-9zM474 295h1v1h-1zM477 295h8v1h-8zM447 296h1v1h-1zM449 296h1v1h-1zM451 296h1v1h-1zM459 296h1v1h-1zM461 296h1v1h-1zM463 296h11v1h-11zM475 296h11v1h-11zM448 297h1v1h-1zM450 297h1v1h-1zM460 297h1v1h-1zM462 297h1v1h-1zM464 297h9v1h-9zM474 297h1v1h-1zM477 297h8v1h-8zM449 298h1v1h-1zM461 298h1v1h-1zM463 298h1v1h-1zM466 298h2v1h-2zM469 298h2v1h-2zM473 298h1v1h-1zM478 298h3v1h-3zM482 298h2v1h-2zM453 301h1v1h-1zM464 301h4v1h-4zM472 301h1v1h-1zM477 301h2v1h-2zM480 301h4v1h-4zM485 301h6v1h-6zM452 302h1v1h-1zM454 302h1v1h-1zM463 302h6v1h-6zM471 302h1v1h-1zM473 302h1v1h-1zM476 302h16v1h-16zM451 303h1v1h-1zM453 303h1v1h-1zM455 303h1v1h-1zM462 303h9v1h-9zM472 303h1v1h-1zM474 303h19v1h-19zM452 304h1v1h-1zM454 304h1v1h-1zM463 304h6v1h-6zM471 304h1v1h-1zM473 304h1v1h-1zM476 304h16v1h-16zM453 305h1v1h-1zM464 305h4v1h-4zM472 305h1v1h-1zM477 305h2v1h-2zM480 305h4v1h-4zM485 305h6v1h-6zM469 307h1v1h-1zM485 307h1v1h-1zM488 307h4v1h-4zM496 307h3v1h-3zM500 307h2v1h-2zM503 307h2v1h-2zM468 308h1v1h-1zM470 308h1v1h-1zM484 308h1v1h-1zM486 308h7v1h-7zM495 308h11v1h-11zM467 309h1v1h-1zM469 309h1v1h-1zM471 309h1v1h-1zM483 309h1v1h-1zM485 309h22v1h-22zM468 310h1v1h-1zM470 310h1v1h-1zM484 310h1v1h-1zM486 310h7v1h-7zM495 310h11v1h-11zM469 311h1v1h-1zM485 311h1v1h-1zM488 311h4v1h-4zM496 311h3v1h-3zM500 311h2v1h-2zM503 311h2v1h-2zM489 314h1v1h-1zM492 314h3v1h-3zM496 314h2v1h-2zM501 314h5v1h-5zM507 314h2v1h-2zM488 315h1v1h-1zM490 315h9v1h-9zM500 315h10v1h-10zM487 316h1v1h-1zM489 316h22v1h-22zM488 317h1v1h-1zM490 317h9v1h-9zM500 317h10v1h-10zM489 318h1v1h-1zM492 318h3v1h-3zM496 318h2v1h-2zM501 318h5v1h-5zM507 318h2v1h-2zM464 320h1v1h-1zM492 320h2v1h-2zM497 320h1v1h-1zM501 320h3v1h-3zM505 320h5v1h-5zM516 320h1v1h-1zM463 321h1v1h-1zM465 321h1v1h-1zM491 321h4v1h-4zM496 321h1v1h-1zM498 321h1v1h-1zM500 321h11v1h-11zM515 321h1v1h-1zM517 321h1v1h-1zM462 322h1v1h-1zM464 322h1v1h-1zM466 322h1v1h-1zM490 322h6v1h-6zM497 322h1v1h-1zM499 322h13v1h-13zM514 322h1v1h-1zM516 322h1v1h-1zM518 322h1v1h-1zM463 323h1v1h-1zM465 323h1v1h-1zM491 323h4v1h-4zM496 323h1v1h-1zM498 323h1v1h-1zM500 323h11v1h-11zM515 323h1v1h-1zM517 323h1v1h-1zM464 324h1v1h-1zM492 324h2v1h-2zM497 324h1v1h-1zM501 324h3v1h-3zM505 324h5v1h-5zM516 324h1v1h-1zM494 327h1v1h-1zM511 327h5v1h-5zM517 327h3v1h-3zM525 327h2v1h-2zM529 327h1v1h-1zM493 328h1v1h-1zM495 328h1v1h-1zM510 328h11v1h-11zM524 328h5v1h-5zM530 328h1v1h-1zM492 329h1v1h-1zM494 329h1v1h-1zM496 329h1v1h-1zM509 329h13v1h-13zM523 329h7v1h-7zM531 329h1v1h-1zM493 330h1v1h-1zM495 330h1v1h-1zM510 330h11v1h-11zM524 330h5v1h-5zM530 330h1v1h-1zM494 331h1v1h-1zM511 331h5v1h-5zM517 331h3v1h-3zM525 331h2v1h-2zM529 331h1v1h-1zM494 333h1v1h-1zM509 333h3v1h-3zM515 333h3v1h-3zM522 333h1v1h-1zM524 333h1v1h-1zM529 333h3v1h-3zM533 333h1v1h-1zM493 334h1v1h-1zM495 334h1v1h-1zM508 334h5v1h-5zM514 334h5v1h-5zM521 334h1v1h-1zM523 334h1v1h-1zM525 334h1v1h-1zM528 334h5v1h-5zM534 334h1v1h-1zM492 335h1v1h-1zM494 335h1v1h-1zM496 335h1v1h-1zM507 335h14v1h-14zM522 335h1v1h-1zM524 335h1v1h-1zM526 335h8v1h-8zM535 335h1v1h-1zM493 336h1v1h-1zM495 336h1v1h-1zM508 336h5v1h-5zM514 336h5v1h-5zM521 336h1v1h-1zM523 336h1v1h-1zM525 336h1v1h-1zM528 336h5v1h-5zM534 336h1v1h-1zM494 337h1v1h-1zM509 337h3v1h-3zM515 337h3v1h-3zM522 337h1v1h-1zM524 337h1v1h-1zM529 337h3v1h-3zM533 337h1v1h-1zM512 340h3v1h-3zM519 340h4v1h-4zM524 340h3v1h-3zM528 340h2v1h-2zM531 340h3v1h-3zM537 340h1v1h-1zM541 340h6v1h-6zM511 341h5v1h-5zM518 341h17v1h-17zM536 341h1v1h-1zM538 341h1v1h-1zM540 341h8v1h-8zM510 342h26v1h-26zM537 342h1v1h-1zM539 342h10v1h-10zM511 343h5v1h-5zM518 343h17v1h-17zM536 343h1v1h-1zM538 343h1v1h-1zM540 343h8v1h-8zM512 344h3v1h-3zM519 344h4v1h-4zM524 344h3v1h-3zM528 344h2v1h-2zM531 344h3v1h-3zM537 344h1v1h-1zM541 344h6v1h-6zM521 346h3v1h-3zM531 346h1v1h-1zM534 346h4v1h-4zM542 346h1v1h-1zM544 346h1v1h-1zM553 346h3v1h-3zM557 346h3v1h-3zM561 346h2v1h-2zM567 346h1v1h-1zM520 347h5v1h-5zM530 347h1v1h-1zM532 347h7v1h-7zM541 347h1v1h-1zM543 347h1v1h-1zM545 347h1v1h-1zM552 347h12v1h-12zM566 347h1v1h-1zM568 347h1v1h-1zM519 348h7v1h-7zM529 348h1v1h-1zM531 348h10v1h-10zM542 348h1v1h-1zM544 348h1v1h-1zM546 348h1v1h-1zM551 348h15v1h-15zM567 348h1v1h-1zM569 348h1v1h-1zM520 349h5v1h-5zM530 349h1v1h-1zM532 349h7v1h-7zM541 349h1v1h-1zM543 349h1v1h-1zM545 349h1v1h-1zM552 349h12v1h-12zM566 349h1v1h-1zM568 349h1v1h-1zM521 350h3v1h-3zM531 350h1v1h-1zM534 350h4v1h-4zM542 350h1v1h-1zM544 350h1v1h-1zM553 350h3v1h-3zM557 350h3v1h-3zM561 350h2v1h-2zM567 350h1v1h-1zM521 353h1v1h-1zM535 353h1v1h-1zM539 353h2v1h-2zM547 353h9v1h-9zM559 353h6v1h-6zM566 353h5v1h-5zM591 353h1v1h-1zM520 354h1v1h-1zM522 354h1v1h-1zM534 354h1v1h-1zM536 354h1v1h-1zM538 354h4v1h-4zM546 354h11v1h-11zM558 354h14v1h-14zM590 354h1v1h-1zM592 354h1v1h-1zM519 355h1v1h-1zM521 355h1v1h-1zM523 355h1v1h-1zM533 355h1v1h-1zM535 355h1v1h-1zM537 355h6v1h-6zM545 355h28v1h-28zM589 355h1v1h-1zM591 355h1v1h-1zM593 355h1v1h-1zM520 356h1v1h-1zM522 356h1v1h-1zM534 356h1v1h-1zM536 356h1v1h-1zM538 356h4v1h-4zM546 356h11v1h-11zM558 356h14v1h-14zM590 356h1v1h-1zM592 356h1v1h-1zM521 357h1v1h-1zM535 357h1v1h-1zM539 357h2v1h-2zM547 357h9v1h-9zM559 357h6v1h-6zM566 357h5v1h-5zM591 357h1v1h-1zM539 359h1v1h-1zM548 359h6v1h-6zM555 359h2v1h-2zM561 359h1v1h-1zM565 359h2v1h-2zM568 359h2v1h-2zM571 359h2v1h-2zM574 359h2v1h-2zM577 359h4v1h-4zM582 359h3v1h-3zM586 359h2v1h-2zM589 359h3v1h-3zM593 359h5v1h-5zM602 359h1v1h-1zM538 360h1v1h-1zM540 360h1v1h-1zM547 360h11v1h-11zM560 360h1v1h-1zM562 360h1v1h-1zM564 360h35v1h-35zM601 360h1v1h-1zM603 360h1v1h-1zM537 361h1v1h-1zM539 361h1v1h-1zM541 361h1v1h-1zM546 361h14v1h-14zM561 361h1v1h-1zM563 361h38v1h-38zM602 361h1v1h-1zM604 361h1v1h-1zM538 362h1v1h-1zM540 362h1v1h-1zM547 362h11v1h-11zM560 362h1v1h-1zM562 362h1v1h-1zM564 362h35v1h-35zM601 362h1v1h-1zM603 362h1v1h-1zM539 363h1v1h-1zM548 363h6v1h-6zM555 363h2v1h-2zM561 363h1v1h-1zM565 363h2v1h-2zM568 363h2v1h-2zM571 363h2v1h-2zM574 363h2v1h-2zM577 363h4v1h-4zM582 363h3v1h-3zM586 363h2v1h-2zM589 363h3v1h-3zM593 363h5v1h-5zM602 363h1v1h-1zM551 366h1v1h-1zM574 366h3v1h-3zM581 366h2v1h-2zM584 366h3v1h-3zM588 366h3v1h-3zM592 366h2v1h-2zM595 366h2v1h-2zM602 366h6v1h-6zM609 366h4v1h-4zM615 366h1v1h-1zM550 367h1v1h-1zM552 367h1v1h-1zM573 367h5v1h-5zM580 367h18v1h-18zM601 367h14v1h-14zM616 367h1v1h-1zM549 368h1v1h-1zM551 368h1v1h-1zM553 368h1v1h-1zM572 368h27v1h-27zM600 368h16v1h-16zM617 368h1v1h-1zM550 369h1v1h-1zM552 369h1v1h-1zM573 369h5v1h-5zM580 369h18v1h-18zM601 369h14v1h-14zM616 369h1v1h-1zM551 370h1v1h-1zM574 370h3v1h-3zM581 370h2v1h-2zM584 370h3v1h-3zM588 370h3v1h-3zM592 370h2v1h-2zM595 370h2v1h-2zM602 370h6v1h-6zM609 370h4v1h-4zM615 370h1v1h-1zM572 372h2v1h-2zM578 372h1v1h-1zM581 372h1v1h-1zM588 372h2v1h-2zM594 372h1v1h-1zM598 372h1v1h-1zM601 372h1v1h-1zM606 372h2v1h-2zM609 372h9v1h-9zM571 373h4v1h-4zM577 373h1v1h-1zM579 373h2v1h-2zM582 373h1v1h-1zM587 373h4v1h-4zM593 373h1v1h-1zM595 373h1v1h-1zM597 373h1v1h-1zM599 373h2v1h-2zM602 373h1v1h-1zM605 373h14v1h-14zM570 374h7v1h-7zM578 374h4v1h-4zM583 374h1v1h-1zM586 374h7v1h-7zM594 374h1v1h-1zM596 374h1v1h-1zM598 374h4v1h-4zM603 374h17v1h-17zM571 375h4v1h-4zM577 375h1v1h-1zM579 375h2v1h-2zM582 375h1v1h-1zM587 375h4v1h-4zM593 375h1v1h-1zM595 375h1v1h-1zM597 375h1v1h-1zM599 375h2v1h-2zM602 375h1v1h-1zM605 375h14v1h-14zM572 376h2v1h-2zM578 376h1v1h-1zM581 376h1v1h-1zM588 376h2v1h-2zM594 376h1v1h-1zM598 376h1v1h-1zM601 376h1v1h-1zM606 376h2v1h-2zM609 376h9v1h-9zM576 378h2v1h-2zM594 378h1v1h-1zM597 378h2v1h-2zM601 378h1v1h-1zM610 378h1v1h-1zM614 378h1v1h-1zM617 378h1v1h-1zM619 378h2v1h-2zM575 379h4v1h-4zM593 379h1v1h-1zM595 379h6v1h-6zM602 379h1v1h-1zM609 379h1v1h-1zM611 379h1v1h-1zM613 379h1v1h-1zM615 379h2v1h-2zM618 379h4v1h-4zM574 380h6v1h-6zM592 380h1v1h-1zM594 380h8v1h-8zM603 380h1v1h-1zM608 380h1v1h-1zM610 380h1v1h-1zM612 380h1v1h-1zM614 380h9v1h-9zM575 381h4v1h-4zM593 381h1v1h-1zM595 381h6v1h-6zM602 381h1v1h-1zM609 381h1v1h-1zM611 381h1v1h-1zM613 381h1v1h-1zM615 381h2v1h-2zM618 381h4v1h-4zM576 382h2v1h-2zM594 382h1v1h-1zM597 382h2v1h-2zM601 382h1v1h-1zM610 382h1v1h-1zM614 382h1v1h-1zM617 382h1v1h-1zM619 382h2v1h-2zM599 385h3v1h-3zM618 385h2v1h-2zM598 386h5v1h-5zM617 386h4v1h-4zM597 387h7v1h-7zM616 387h6v1h-6zM598 388h5v1h-5zM617 388h4v1h-4zM599 389h3v1h-3zM618 389h2v1h-2zM600 391h1v1h-1zM618 391h1v1h-1zM599 392h1v1h-1zM601 392h1v1h-1zM617 392h1v1h-1zM619 392h1v1h-1zM598 393h1v1h-1zM600 393h1v1h-1zM602 393h1v1h-1zM616 393h1v1h-1zM618 393h1v1h-1zM620 393h1v1h-1zM599 394h1v1h-1zM601 394h1v1h-1zM617 394h1v1h-1zM619 394h1v1h-1zM600 395h1v1h-1zM618 395h1v1h-1zM592 411h1v1h-1zM591 412h1v1h-1zM593 412h1v1h-1zM590 413h1v1h-1zM592 413h1v1h-1zM594 413h1v1h-1zM591 414h1v1h-1zM593 414h1v1h-1zM592 415h1v1h-1z" fill="#f00" shape-rendering="crispEdges"/>
<g>
<text x="336.1" y="19" text-anchor="middle">2006/5/21</text>
<text x="336.1" y="477" text-anchor="middle">Universal Time</text>
<text transform="translate(14 238.4) rotate(-90)" text-anchor="middle">Temperature(degree)</text>
<text x="44.5" y="36" text-anchor="end">-87</text>
<text x="44.5" y="77" text-anchor="end">-88</text>
<text x="44.5" y="119" text-anchor="end">-89</text>
<text x="44.5" y="160" text-anchor="end">-90</text>
<text x="44.5" y="202" text-anchor="end">-91</text>
<text x="44.5" y="243" text-anchor="end">-92</text>
<text x="44.5" y="284" text-anchor="end">-93</text>
<text x="44.5" y="326" text-anchor="end">-94</text>
<text x="44.5" y="367" text-anchor="end">-95</text>
<text x="44.5" y="409" text-anchor="end">-96</text>
<text x="44.5" y="450" text-anchor="end">-97</text>
<text x="52.1" y="461" text-anchor="middle">00</text>
<text x="123.2" y="461" text-anchor="middle">03</text>
<text x="194.3" y="461" text-anchor="middle">06</text>
<text x="265.5" y="461" text-anchor="middle">09</text>
<text x="336.6" y="461" text-anchor="middle">12</text>
<text x="407.7" y="461" text-anchor="middle">15</text>
<text x="478.9" y="461" text-anchor="middle">18</text>
<text x="550.0" y="461" text-anchor="middle">21</text>
<text x="621.1" y="461" text-anchor="middle">00</text>
</g>
</svg>
</body></html>
